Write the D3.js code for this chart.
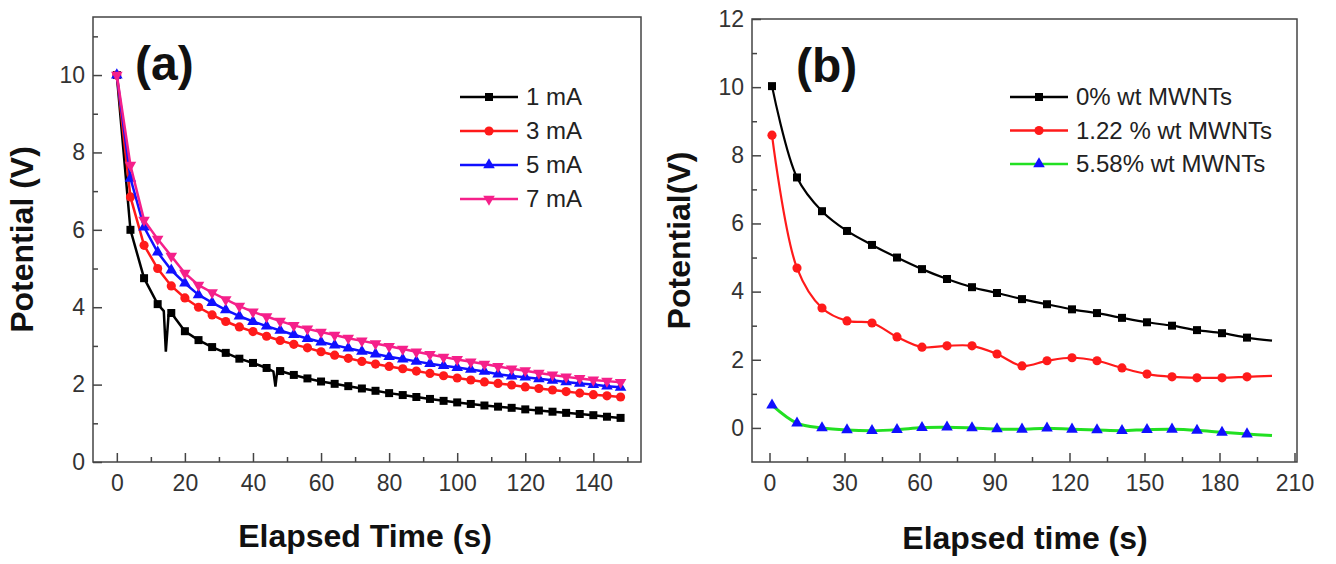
<!DOCTYPE html>
<html>
<head>
<meta charset="utf-8">
<script src="https://cdn.jsdelivr.net/npm/d3@7"></script>
<style>
    body { margin: 0; background: #fff; }
    svg { font-family: "Liberation Sans", Arial, sans-serif; }
    .tick text { font-size: 23px; fill: #333; }
    .axis-label { font-size: 32px; font-weight: bold; fill: #111; }
    .panel-label { font-size: 48px; font-weight: bold; fill: #111; }
    .legend text { font-size: 24px; fill: #222; }
</style>
</head>
<body>
<div id="chart"></div>
<script>
// ---------- Panel (a) data ----------
const timeA = [0, 4, 8, 12, 16, 20, 24, 28, 32, 36, 40, 44, 48, 52, 56, 60, 64, 68, 72, 76,
    80, 84, 88, 92, 96, 100, 104, 108, 112, 116, 120, 124, 128, 132, 136, 140, 144, 148];
const v1mA = [10.0, 6.0, 4.75, 4.08, 3.85, 3.38, 3.15, 2.97, 2.82, 2.67, 2.56, 2.43, 2.35, 2.25, 2.16, 2.08, 2.02, 1.96, 1.9, 1.84,
    1.78, 1.73, 1.68, 1.63, 1.58, 1.54, 1.5, 1.46, 1.43, 1.4, 1.36, 1.33, 1.3, 1.27, 1.24, 1.21, 1.17, 1.14];
// glitches in the 1 mA trace (line only, no marker)
const spikes1mA = [[13.8, 3.9], [14.4, 2.85], [15.2, 3.8], [46, 2.34], [46.6, 1.95], [47.2, 2.4]];
const v3mA = [10.0, 6.85, 5.6, 5.0, 4.55, 4.24, 4.0, 3.8, 3.63, 3.49, 3.37, 3.25, 3.14, 3.04, 2.95, 2.85, 2.76, 2.68, 2.6, 2.53,
    2.47, 2.41, 2.35, 2.29, 2.23, 2.17, 2.12, 2.07, 2.03, 1.99, 1.94, 1.9, 1.86, 1.82, 1.78, 1.74, 1.71, 1.68];
const v5mA = [10.0, 7.33, 6.07, 5.42, 4.96, 4.62, 4.32, 4.12, 3.93, 3.77, 3.63, 3.51, 3.4, 3.29, 3.19, 3.1, 3.02, 2.94, 2.86, 2.79,
    2.72, 2.66, 2.6, 2.54, 2.49, 2.44, 2.39, 2.34, 2.27, 2.22, 2.19, 2.15, 2.11, 2.07, 2.03, 2.0, 1.96, 1.93];
const v7mA = [10.0, 7.67, 6.25, 5.76, 5.32, 4.88, 4.57, 4.38, 4.2, 4.03, 3.88, 3.76, 3.64, 3.53, 3.44, 3.36, 3.28, 3.2, 3.13, 3.06,
    2.99, 2.92, 2.85, 2.78, 2.71, 2.65, 2.59, 2.53, 2.47, 2.41, 2.36, 2.3, 2.25, 2.2, 2.16, 2.12, 2.09, 2.06];
const seriesNamesA = ["1 mA", "3 mA", "5 mA", "7 mA"];
const xTicksA = [0, 20, 40, 60, 80, 100, 120, 140];
const xMinorA = [10, 30, 50, 70, 90, 110, 130, 150];
const yTicksA = [0, 2, 4, 6, 8, 10];
const yMinorA = [1, 3, 5, 7, 9, 11];

// ---------- Panel (b) data ----------
// last sample (201 s) ends the line without a marker
const timeB = [1, 11, 21, 31, 41, 51, 61, 71, 81, 91, 101, 111, 121, 131, 141, 151, 161, 171, 181, 191, 201];
const v0pct = [10.03, 7.35, 6.36, 5.78, 5.37, 5.0, 4.66, 4.37, 4.13, 3.96, 3.78, 3.63, 3.48, 3.37, 3.23, 3.1, 3.0, 2.87, 2.78, 2.65, 2.56];
const v122pct = [8.59, 4.69, 3.52, 3.14, 3.08, 2.67, 2.37, 2.41, 2.41, 2.17, 1.82, 1.97, 2.06, 1.97, 1.76, 1.58, 1.5, 1.47, 1.47, 1.5, 1.53];
const v558pct = [0.67, 0.14, 0.0, -0.06, -0.08, -0.05, 0.01, 0.02, 0.0, -0.03, -0.04, -0.01, -0.04, -0.06, -0.08, -0.05, -0.04, -0.07, -0.13, -0.18, -0.22];
const seriesNamesB = ["0% wt MWNTs", "1.22 % wt MWNTs", "5.58% wt MWNTs"];
const xTicksB = [0, 30, 60, 90, 120, 150, 180, 210];
const xMinorB = [15, 45, 75, 105, 135, 165, 195];
const yTicksB = [0, 2, 4, 6, 8, 10, 12];
const yMinorB = [1, 3, 5, 7, 9, 11];

const svg = d3.select("#chart")
    .append("svg")
    .attr("width", 1336)
    .attr("height", 564);

// symbol helpers
const sym = {
    square: d3.symbol().type(d3.symbolSquare).size(64),
    circle: d3.symbol().type(d3.symbolCircle).size(66),
    triUp: d3.symbol().type(d3.symbolTriangle).size(58),
    triDown: d3.symbol().type(d3.symbolTriangle).size(58)
};

function drawFrame(g, box, xScale, yScale, xTicks, xMinor, yTicks, yMinor) {
    let width = box.right - box.left,
        height = box.bottom - box.top;

    // x axis (ticks point inward)
    let xGroup = g.append("g")
        .attr("class", "axis x-axis")
        .attr("transform", `translate(0,${height})`)
        .call(d3.axisBottom(xScale).tickValues(xTicks).tickSizeInner(-9).tickSizeOuter(0).tickPadding(13));
    xGroup.select(".domain").remove();
    xGroup.selectAll(".tick line").attr("stroke", "#444").attr("stroke-width", 1.5);

    let xMinorGroup = g.append("g")
        .attr("transform", `translate(0,${height})`)
        .call(d3.axisBottom(xScale).tickValues(xMinor).tickSizeInner(-5).tickSizeOuter(0).tickFormat(""));
    xMinorGroup.select(".domain").remove();
    xMinorGroup.selectAll(".tick line").attr("stroke", "#444").attr("stroke-width", 1.5);

    // y axis
    let yGroup = g.append("g")
        .attr("class", "axis y-axis")
        .call(d3.axisLeft(yScale).tickValues(yTicks).tickSizeInner(-9).tickSizeOuter(0).tickPadding(8));
    yGroup.select(".domain").remove();
    yGroup.selectAll(".tick line").attr("stroke", "#444").attr("stroke-width", 1.5);

    let yMinorGroup = g.append("g")
        .call(d3.axisLeft(yScale).tickValues(yMinor).tickSizeInner(-5).tickSizeOuter(0).tickFormat(""));
    yMinorGroup.select(".domain").remove();
    yMinorGroup.selectAll(".tick line").attr("stroke", "#444").attr("stroke-width", 1.5);

    // box around plot
    g.append("rect")
        .attr("width", width)
        .attr("height", height)
        .attr("fill", "none")
        .attr("stroke", "#444")
        .attr("stroke-width", 1.5);
}

function drawSeries(g, pts, color, shape, rotate, lineWidth, curve, markerColor) {
    let line = d3.line()
        .x(d => d.x)
        .y(d => d.y)
        .curve(curve);
    g.append("path")
        .datum(pts.filter(d => d.line))
        .attr("fill", "none")
        .attr("stroke", color)
        .attr("stroke-width", lineWidth)
        .attr("d", line);
    g.selectAll(null)
        .data(pts.filter(d => d.marker))
        .enter()
        .append("path")
        .attr("d", shape)
        .attr("transform", d => `translate(${d.x},${d.y})${rotate ? " rotate(180)" : ""}`)
        .attr("fill", markerColor || color);
}

function drawLegend(g, x, y, rowH, items) {
    let lg = g.append("g").attr("class", "legend").attr("transform", `translate(${x},${y})`);
    items.forEach((it, i) => {
        let row = lg.append("g").attr("transform", `translate(0,${i * rowH})`);
        row.append("line")
            .attr("x1", 0).attr("x2", 58)
            .attr("stroke", it.color).attr("stroke-width", 2.5);
        row.append("path")
            .attr("d", it.shape)
            .attr("transform", `translate(29,0)${it.rotate ? " rotate(180)" : ""}`)
            .attr("fill", it.markerColor || it.color);
        row.append("text")
            .attr("x", 66)
            .attr("y", 8)
            .text(it.name);
    });
}

// ---------------- Panel (a) ----------------
function drawPanelA() {
    const box = {left: 93, top: 17, right: 641, bottom: 462};
    let width = box.right - box.left,
        height = box.bottom - box.top;

    let g = svg.append("g").attr("transform", `translate(${box.left},${box.top})`);

    let xScale = d3.scaleLinear().domain([-7, 154]).range([0, width]);
    let yScale = d3.scaleLinear().domain([0, 11.5]).range([height, 0]);

    drawFrame(g, box, xScale, yScale, xTicksA, xMinorA, yTicksA, yMinorA);

    const colors = ["#000000", "#ff1a1a", "#1010ff", "#f5208a"];
    const shapes = [sym.square, sym.circle, sym.triUp, sym.triDown];
    const values = [v1mA, v3mA, v5mA, v7mA];

    let plot = g.append("g");
    values.forEach((vals, k) => {
        let pts = timeA.map((t, i) => ({x: xScale(t), y: yScale(vals[i]), t: t, line: true, marker: true}));
        if (k === 0) {
            spikes1mA.forEach(s => pts.push({x: xScale(s[0]), y: yScale(s[1]), t: s[0], line: true, marker: false}));
            pts.sort((a, b) => a.t - b.t);
        }
        drawSeries(plot, pts, colors[k], shapes[k], k === 3, 2.5, d3.curveLinear);
    });

    // panel label
    g.append("text")
        .attr("class", "panel-label")
        .attr("x", 42)
        .attr("y", 63)
        .text("(a)");

    drawLegend(g, 460 - box.left, 97 - box.top, 34,
        seriesNamesA.map((n, k) => ({name: n, color: colors[k], shape: shapes[k], rotate: k === 3})));

    // axis labels
    g.append("text")
        .attr("class", "axis-label")
        .attr("text-anchor", "middle")
        .attr("transform", `translate(${-60},${height / 2}) rotate(-90)`)
        .text("Potential (V)");

    g.append("text")
        .attr("class", "axis-label")
        .attr("text-anchor", "middle")
        .attr("x", 365 - box.left)
        .attr("y", 547 - box.top)
        .text("Elapsed Time (s)");
}

// ---------------- Panel (b) ----------------
function drawPanelB() {
    const box = {left: 752, top: 19, right: 1297, bottom: 462};
    let width = box.right - box.left,
        height = box.bottom - box.top;

    let g = svg.append("g").attr("transform", `translate(${box.left},${box.top})`);

    let xScale = d3.scaleLinear().domain([-7, 211]).range([0, width]);
    let yScale = d3.scaleLinear().domain([-1, 12]).range([height, 0]);

    drawFrame(g, box, xScale, yScale, xTicksB, xMinorB, yTicksB, yMinorB);

    const lineColors = ["#000000", "#ff1a1a", "#22e022"];
    const markerColors = ["#000000", "#ff1a1a", "#1010ff"];
    const shapes = [sym.square, sym.circle, sym.triUp];
    const values = [v0pct, v122pct, v558pct];

    let plot = g.append("g");
    values.forEach((vals, k) => {
        let pts = timeB.map((t, i) => ({x: xScale(t), y: yScale(vals[i]), line: true, marker: i < timeB.length - 1}));
        drawSeries(plot, pts, lineColors[k], shapes[k], false, k === 2 ? 3 : 2.2, d3.curveCatmullRom, markerColors[k]);
    });

    g.append("text")
        .attr("class", "panel-label")
        .attr("x", 44)
        .attr("y", 63)
        .text("(b)");

    drawLegend(g, 1010 - box.left, 97 - box.top, 33.5,
        seriesNamesB.map((n, k) => ({name: n, color: lineColors[k], shape: shapes[k], markerColor: markerColors[k]})));

    g.append("text")
        .attr("class", "axis-label")
        .attr("text-anchor", "middle")
        .attr("transform", `translate(${-62},${height / 2}) rotate(-90)`)
        .text("Potential(V)");

    g.append("text")
        .attr("class", "axis-label")
        .attr("text-anchor", "middle")
        .attr("x", 1025 - box.left)
        .attr("y", 549 - box.top)
        .text("Elapsed time (s)");
}

drawPanelA();
drawPanelB();
</script>
</body>
</html>
